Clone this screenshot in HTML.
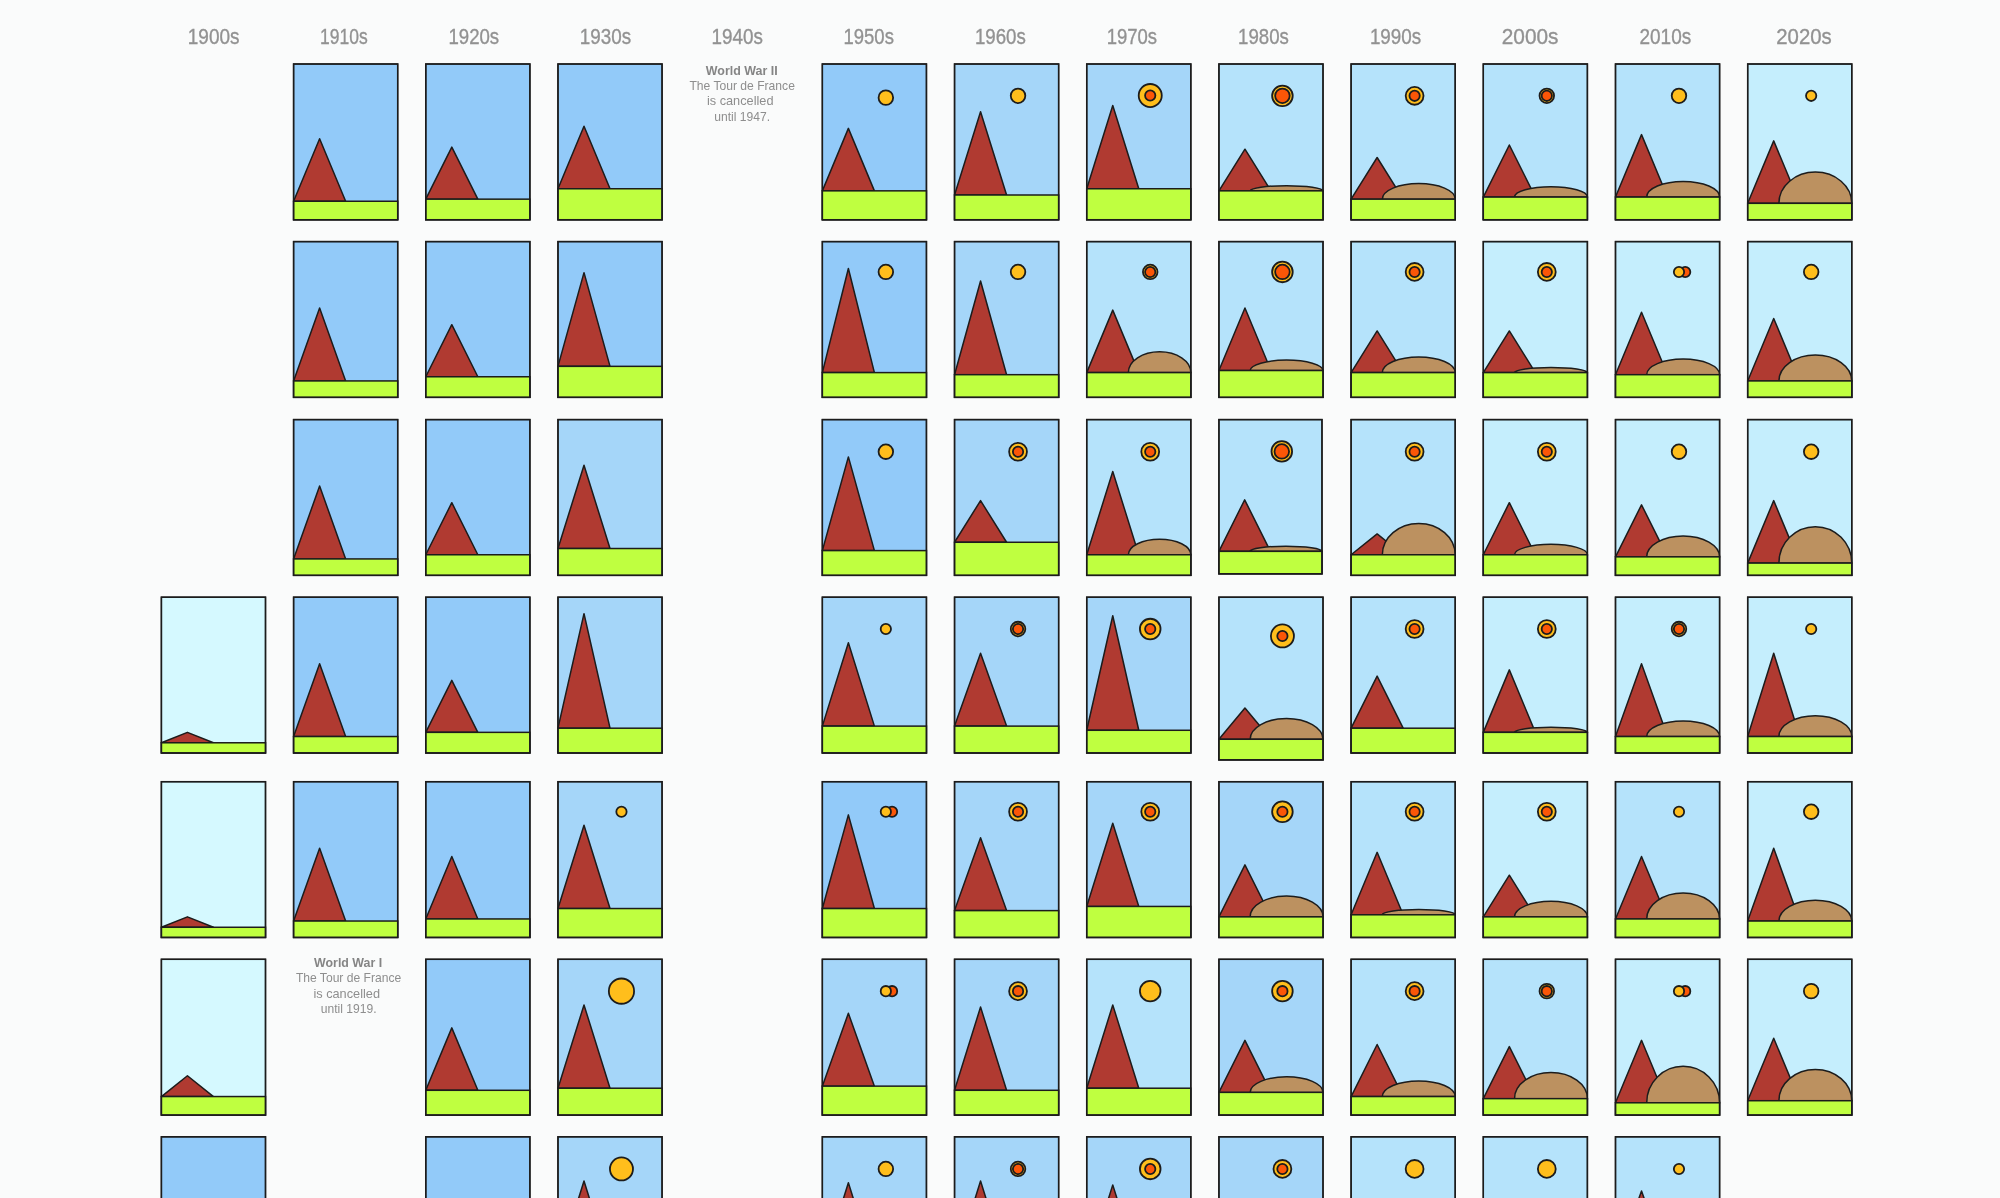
<!DOCTYPE html>
<html lang="en"><head><meta charset="utf-8"><title>Tour de France by decade</title>
<style>
html,body{margin:0;padding:0;background:#FAFBFB;}
body{width:2000px;height:1198px;overflow:hidden;}
svg{display:block;will-change:transform}
.cards g{stroke:#1c1c1c;stroke-width:1.5;stroke-linejoin:miter}
.hdr text{font-family:"Liberation Sans",sans-serif;font-size:21.6px;fill:#929292;stroke:#929292;stroke-width:.35px}
.note text{font-family:"Liberation Sans",sans-serif;font-size:12.2px;fill:#8e8e8e}
.note text.b{font-weight:bold;fill:#858585}
</style></head><body>
<svg width="2000" height="1198" viewBox="0 0 2000 1198">
<rect width="2000" height="1198" fill="#FAFBFB"/>
<g class="hdr"><text x="187.8" y="44.2" textLength="51.8" lengthAdjust="spacingAndGlyphs">1900s</text><text x="320.1" y="44.2" textLength="47.7" lengthAdjust="spacingAndGlyphs">1910s</text><text x="448.4" y="44.2" textLength="50.8" lengthAdjust="spacingAndGlyphs">1920s</text><text x="579.8" y="44.2" textLength="51.3" lengthAdjust="spacingAndGlyphs">1930s</text><text x="711.6" y="44.2" textLength="51.3" lengthAdjust="spacingAndGlyphs">1940s</text><text x="843.5" y="44.2" textLength="50.4" lengthAdjust="spacingAndGlyphs">1950s</text><text x="974.9" y="44.2" textLength="50.9" lengthAdjust="spacingAndGlyphs">1960s</text><text x="1106.7" y="44.2" textLength="50.4" lengthAdjust="spacingAndGlyphs">1970s</text><text x="1238.1" y="44.2" textLength="50.8" lengthAdjust="spacingAndGlyphs">1980s</text><text x="1369.9" y="44.2" textLength="51.3" lengthAdjust="spacingAndGlyphs">1990s</text><text x="1501.8" y="44.2" textLength="56.7" lengthAdjust="spacingAndGlyphs">2000s</text><text x="1639.5" y="44.2" textLength="51.7" lengthAdjust="spacingAndGlyphs">2010s</text><text x="1776.3" y="44.2" textLength="55.4" lengthAdjust="spacingAndGlyphs">2020s</text></g>
<g class="note"><text class="b" x="705.85" y="74.7" textLength="71.9" lengthAdjust="spacingAndGlyphs">World War II</text><text x="689.4" y="90" textLength="105.5" lengthAdjust="spacingAndGlyphs">The Tour de France</text><text x="706.9" y="105" textLength="66.65" lengthAdjust="spacingAndGlyphs">is cancelled</text><text x="714.25" y="120.6" textLength="55.8" lengthAdjust="spacingAndGlyphs">until 1947.</text><text class="b" x="314.1" y="966.6" textLength="68.05" lengthAdjust="spacingAndGlyphs">World War I</text><text x="295.9" y="981.9" textLength="105.3" lengthAdjust="spacingAndGlyphs">The Tour de France</text><text x="313.4" y="997.5" textLength="66.65" lengthAdjust="spacingAndGlyphs">is cancelled</text><text x="320.75" y="1012.9" textLength="55.8" lengthAdjust="spacingAndGlyphs">until 1919.</text></g>
<g class="cards">
<g><rect x="293.59" y="64" width="104.1" height="155.73" fill="#92CAF9"/><path d="M293.59 201.25L319.62 138.79L345.64 201.25Z" fill="#B03A31" stroke-linejoin="round"/><rect x="293.59" y="201.25" width="104.1" height="18.49" fill="#BFFF40"/><rect x="293.59" y="64" width="104.1" height="155.73" fill="none" stroke-width="1.35"/></g>
<g><rect x="425.78" y="64" width="104.1" height="155.73" fill="#92CAF9"/><path d="M425.78 199.16L451.8 147.11L477.83 199.16Z" fill="#B03A31" stroke-linejoin="round"/><rect x="425.78" y="199.16" width="104.1" height="20.57" fill="#BFFF40"/><rect x="425.78" y="64" width="104.1" height="155.73" fill="none" stroke-width="1.35"/></g>
<g><rect x="557.97" y="64" width="104.1" height="155.73" fill="#92CAF9"/><path d="M557.97 188.75L584 126.29L610.02 188.75Z" fill="#B03A31" stroke-linejoin="round"/><rect x="557.97" y="188.75" width="104.1" height="30.98" fill="#BFFF40"/><rect x="557.97" y="64" width="104.1" height="155.73" fill="none" stroke-width="1.35"/></g>
<g><rect x="822.35" y="64" width="104.1" height="155.73" fill="#92CAF9"/><circle cx="885.85" cy="97.63" r="7.28" fill="#FFBE1C" stroke-width="1.8"/><path d="M822.35 190.84L848.38 128.38L874.4 190.84Z" fill="#B03A31" stroke-linejoin="round"/><rect x="822.35" y="190.84" width="104.1" height="28.9" fill="#BFFF40"/><rect x="822.35" y="64" width="104.1" height="155.73" fill="none" stroke-width="1.35"/></g>
<g><rect x="954.54" y="64" width="104.1" height="155.73" fill="#A5D6F9"/><circle cx="1018.04" cy="95.83" r="7.28" fill="#FFBE1C" stroke-width="1.8"/><path d="M954.54 195L980.56 111.72L1006.59 195Z" fill="#B03A31" stroke-linejoin="round"/><rect x="954.54" y="195" width="104.1" height="24.73" fill="#BFFF40"/><rect x="954.54" y="64" width="104.1" height="155.73" fill="none" stroke-width="1.35"/></g>
<g><rect x="1086.73" y="64" width="104.1" height="155.73" fill="#A5D6F9"/><circle cx="1150.23" cy="95.53" r="11.52" fill="#FFBE1C" stroke-width="1.8"/><circle cx="1150.23" cy="95.53" r="5.15" fill="#FB5607" stroke-width="1.8"/><path d="M1086.73 188.75L1112.76 105.47L1138.78 188.75Z" fill="#B03A31" stroke-linejoin="round"/><rect x="1086.73" y="188.75" width="104.1" height="30.98" fill="#BFFF40"/><rect x="1086.73" y="64" width="104.1" height="155.73" fill="none" stroke-width="1.35"/></g>
<g><rect x="1218.92" y="64" width="104.1" height="155.73" fill="#B5E3FB"/><circle cx="1282.42" cy="95.83" r="10.3" fill="#FFBE1C" stroke-width="1.8"/><circle cx="1282.42" cy="95.83" r="7.28" fill="#FB5607" stroke-width="1.8"/><path d="M1218.92 190.84L1244.95 149.2L1270.97 190.84Z" fill="#B03A31" stroke-linejoin="round"/><path d="M1250.15 190.84A36.43 5.21 0 0 1 1323.02 190.84Z" fill="#BC9160"/><rect x="1218.92" y="190.84" width="104.1" height="28.9" fill="#BFFF40"/><rect x="1218.92" y="64" width="104.1" height="155.73" fill="none" stroke-width="1.35"/></g>
<g><rect x="1351.11" y="64" width="104.1" height="155.73" fill="#B5E3FB"/><circle cx="1414.61" cy="95.83" r="8.92" fill="#FFBE1C" stroke-width="1.8"/><circle cx="1414.61" cy="95.83" r="5.15" fill="#FB5607" stroke-width="1.8"/><path d="M1351.11 199.16L1377.14 157.52L1403.16 199.16Z" fill="#B03A31" stroke-linejoin="round"/><path d="M1382.34 199.16A36.43 15.61 0 0 1 1455.21 199.16Z" fill="#BC9160"/><rect x="1351.11" y="199.16" width="104.1" height="20.57" fill="#BFFF40"/><rect x="1351.11" y="64" width="104.1" height="155.73" fill="none" stroke-width="1.35"/></g>
<g><rect x="1483.3" y="64" width="104.1" height="155.73" fill="#B5E3FB"/><circle cx="1546.8" cy="95.83" r="7.28" fill="#FFBE1C" stroke-width="1.8"/><circle cx="1546.8" cy="95.83" r="5.15" fill="#FB5607" stroke-width="1.8"/><path d="M1483.3 197.08L1509.33 145.03L1535.35 197.08Z" fill="#B03A31" stroke-linejoin="round"/><path d="M1514.53 197.08A36.43 10.41 0 0 1 1587.4 197.08Z" fill="#BC9160"/><rect x="1483.3" y="197.08" width="104.1" height="22.65" fill="#BFFF40"/><rect x="1483.3" y="64" width="104.1" height="155.73" fill="none" stroke-width="1.35"/></g>
<g><rect x="1615.49" y="64" width="104.1" height="155.73" fill="#B5E3FB"/><circle cx="1678.99" cy="95.83" r="7.28" fill="#FFBE1C" stroke-width="1.8"/><path d="M1615.49 197.08L1641.52 134.62L1667.54 197.08Z" fill="#B03A31" stroke-linejoin="round"/><path d="M1646.72 197.08A36.43 15.61 0 0 1 1719.59 197.08Z" fill="#BC9160"/><rect x="1615.49" y="197.08" width="104.1" height="22.65" fill="#BFFF40"/><rect x="1615.49" y="64" width="104.1" height="155.73" fill="none" stroke-width="1.35"/></g>
<g><rect x="1747.68" y="64" width="104.1" height="155.73" fill="#C5EEFD"/><circle cx="1811.18" cy="95.83" r="5.15" fill="#FFBE1C" stroke-width="1.8"/><path d="M1747.68 203.33L1773.71 140.87L1799.73 203.33Z" fill="#B03A31" stroke-linejoin="round"/><path d="M1778.91 203.33A36.43 31.23 0 0 1 1851.78 203.33Z" fill="#BC9160"/><rect x="1747.68" y="203.33" width="104.1" height="16.41" fill="#BFFF40"/><rect x="1747.68" y="64" width="104.1" height="155.73" fill="none" stroke-width="1.35"/></g>
<g><rect x="293.59" y="241.6" width="104.1" height="155.73" fill="#92CAF9"/><path d="M293.59 380.93L319.62 308.06L345.64 380.93Z" fill="#B03A31" stroke-linejoin="round"/><rect x="293.59" y="380.93" width="104.1" height="16.41" fill="#BFFF40"/><rect x="293.59" y="241.6" width="104.1" height="155.73" fill="none" stroke-width="1.35"/></g>
<g><rect x="425.78" y="241.6" width="104.1" height="155.73" fill="#92CAF9"/><path d="M425.78 376.76L451.8 324.71L477.83 376.76Z" fill="#B03A31" stroke-linejoin="round"/><rect x="425.78" y="376.76" width="104.1" height="20.57" fill="#BFFF40"/><rect x="425.78" y="241.6" width="104.1" height="155.73" fill="none" stroke-width="1.35"/></g>
<g><rect x="557.97" y="241.6" width="104.1" height="155.73" fill="#92CAF9"/><path d="M557.97 366.35L584 272.66L610.02 366.35Z" fill="#B03A31" stroke-linejoin="round"/><rect x="557.97" y="366.35" width="104.1" height="30.98" fill="#BFFF40"/><rect x="557.97" y="241.6" width="104.1" height="155.73" fill="none" stroke-width="1.35"/></g>
<g><rect x="822.35" y="241.6" width="104.1" height="155.73" fill="#92CAF9"/><circle cx="885.85" cy="271.93" r="7.28" fill="#FFBE1C" stroke-width="1.8"/><path d="M822.35 372.6L848.38 268.5L874.4 372.6Z" fill="#B03A31" stroke-linejoin="round"/><rect x="822.35" y="372.6" width="104.1" height="24.73" fill="#BFFF40"/><rect x="822.35" y="241.6" width="104.1" height="155.73" fill="none" stroke-width="1.35"/></g>
<g><rect x="954.54" y="241.6" width="104.1" height="155.73" fill="#A5D6F9"/><circle cx="1018.04" cy="271.93" r="7.28" fill="#FFBE1C" stroke-width="1.8"/><path d="M954.54 374.68L980.56 280.99L1006.59 374.68Z" fill="#B03A31" stroke-linejoin="round"/><rect x="954.54" y="374.68" width="104.1" height="22.65" fill="#BFFF40"/><rect x="954.54" y="241.6" width="104.1" height="155.73" fill="none" stroke-width="1.35"/></g>
<g><rect x="1086.73" y="241.6" width="104.1" height="155.73" fill="#B5E3FB"/><circle cx="1150.23" cy="271.93" r="7.28" fill="#FFBE1C" stroke-width="1.8"/><circle cx="1150.23" cy="271.93" r="5.15" fill="#FB5607" stroke-width="1.8"/><path d="M1086.73 372.6L1112.76 310.14L1138.78 372.6Z" fill="#B03A31" stroke-linejoin="round"/><path d="M1128.37 372.6A31.23 20.82 0 0 1 1190.83 372.6Z" fill="#BC9160"/><rect x="1086.73" y="372.6" width="104.1" height="24.73" fill="#BFFF40"/><rect x="1086.73" y="241.6" width="104.1" height="155.73" fill="none" stroke-width="1.35"/></g>
<g><rect x="1218.92" y="241.6" width="104.1" height="155.73" fill="#B5E3FB"/><circle cx="1282.42" cy="271.93" r="10.3" fill="#FFBE1C" stroke-width="1.8"/><circle cx="1282.42" cy="271.93" r="7.28" fill="#FB5607" stroke-width="1.8"/><path d="M1218.92 370.52L1244.95 308.06L1270.97 370.52Z" fill="#B03A31" stroke-linejoin="round"/><path d="M1250.15 370.52A36.43 10.41 0 0 1 1323.02 370.52Z" fill="#BC9160"/><rect x="1218.92" y="370.52" width="104.1" height="26.82" fill="#BFFF40"/><rect x="1218.92" y="241.6" width="104.1" height="155.73" fill="none" stroke-width="1.35"/></g>
<g><rect x="1351.11" y="241.6" width="104.1" height="155.73" fill="#B5E3FB"/><circle cx="1414.61" cy="271.93" r="8.92" fill="#FFBE1C" stroke-width="1.8"/><circle cx="1414.61" cy="271.93" r="5.15" fill="#FB5607" stroke-width="1.8"/><path d="M1351.11 372.6L1377.14 330.96L1403.16 372.6Z" fill="#B03A31" stroke-linejoin="round"/><path d="M1382.34 372.6A36.43 15.61 0 0 1 1455.21 372.6Z" fill="#BC9160"/><rect x="1351.11" y="372.6" width="104.1" height="24.73" fill="#BFFF40"/><rect x="1351.11" y="241.6" width="104.1" height="155.73" fill="none" stroke-width="1.35"/></g>
<g><rect x="1483.3" y="241.6" width="104.1" height="155.73" fill="#C5EEFD"/><circle cx="1546.8" cy="271.93" r="8.92" fill="#FFBE1C" stroke-width="1.8"/><circle cx="1546.8" cy="271.93" r="5.15" fill="#FB5607" stroke-width="1.8"/><path d="M1483.3 372.6L1509.33 330.96L1535.35 372.6Z" fill="#B03A31" stroke-linejoin="round"/><path d="M1514.53 372.6A36.43 5.21 0 0 1 1587.4 372.6Z" fill="#BC9160"/><rect x="1483.3" y="372.6" width="104.1" height="24.73" fill="#BFFF40"/><rect x="1483.3" y="241.6" width="104.1" height="155.73" fill="none" stroke-width="1.35"/></g>
<g><rect x="1615.49" y="241.6" width="104.1" height="155.73" fill="#C5EEFD"/><circle cx="1685.19" cy="271.93" r="5.15" fill="#FB5607" stroke-width="1.8"/><circle cx="1678.99" cy="271.93" r="5.15" fill="#FFBE1C" stroke-width="1.8"/><path d="M1615.49 374.68L1641.52 312.22L1667.54 374.68Z" fill="#B03A31" stroke-linejoin="round"/><path d="M1646.72 374.68A36.43 15.61 0 0 1 1719.59 374.68Z" fill="#BC9160"/><rect x="1615.49" y="374.68" width="104.1" height="22.65" fill="#BFFF40"/><rect x="1615.49" y="241.6" width="104.1" height="155.73" fill="none" stroke-width="1.35"/></g>
<g><rect x="1747.68" y="241.6" width="104.1" height="155.73" fill="#C5EEFD"/><circle cx="1811.18" cy="271.93" r="7.28" fill="#FFBE1C" stroke-width="1.8"/><path d="M1747.68 380.93L1773.71 318.47L1799.73 380.93Z" fill="#B03A31" stroke-linejoin="round"/><path d="M1778.91 380.93A36.43 26.02 0 0 1 1851.78 380.93Z" fill="#BC9160"/><rect x="1747.68" y="380.93" width="104.1" height="16.41" fill="#BFFF40"/><rect x="1747.68" y="241.6" width="104.1" height="155.73" fill="none" stroke-width="1.35"/></g>
<g><rect x="293.59" y="419.6" width="104.1" height="155.73" fill="#92CAF9"/><path d="M293.59 558.93L319.62 486.06L345.64 558.93Z" fill="#B03A31" stroke-linejoin="round"/><rect x="293.59" y="558.93" width="104.1" height="16.41" fill="#BFFF40"/><rect x="293.59" y="419.6" width="104.1" height="155.73" fill="none" stroke-width="1.35"/></g>
<g><rect x="425.78" y="419.6" width="104.1" height="155.73" fill="#92CAF9"/><path d="M425.78 554.76L451.8 502.71L477.83 554.76Z" fill="#B03A31" stroke-linejoin="round"/><rect x="425.78" y="554.76" width="104.1" height="20.57" fill="#BFFF40"/><rect x="425.78" y="419.6" width="104.1" height="155.73" fill="none" stroke-width="1.35"/></g>
<g><rect x="557.97" y="419.6" width="104.1" height="155.73" fill="#A5D6F9"/><path d="M557.97 548.52L584 465.24L610.02 548.52Z" fill="#B03A31" stroke-linejoin="round"/><rect x="557.97" y="548.52" width="104.1" height="26.82" fill="#BFFF40"/><rect x="557.97" y="419.6" width="104.1" height="155.73" fill="none" stroke-width="1.35"/></g>
<g><rect x="822.35" y="419.6" width="104.1" height="155.73" fill="#92CAF9"/><circle cx="885.85" cy="451.73" r="7.28" fill="#FFBE1C" stroke-width="1.8"/><path d="M822.35 550.6L848.38 456.91L874.4 550.6Z" fill="#B03A31" stroke-linejoin="round"/><rect x="822.35" y="550.6" width="104.1" height="24.73" fill="#BFFF40"/><rect x="822.35" y="419.6" width="104.1" height="155.73" fill="none" stroke-width="1.35"/></g>
<g><rect x="954.54" y="419.6" width="104.1" height="155.73" fill="#A5D6F9"/><circle cx="1018.04" cy="451.73" r="8.92" fill="#FFBE1C" stroke-width="1.8"/><circle cx="1018.04" cy="451.73" r="5.15" fill="#FB5607" stroke-width="1.8"/><path d="M954.54 542.27L980.56 500.63L1006.59 542.27Z" fill="#B03A31" stroke-linejoin="round"/><rect x="954.54" y="542.27" width="104.1" height="33.06" fill="#BFFF40"/><rect x="954.54" y="419.6" width="104.1" height="155.73" fill="none" stroke-width="1.35"/></g>
<g><rect x="1086.73" y="419.6" width="104.1" height="155.73" fill="#B5E3FB"/><circle cx="1150.23" cy="451.73" r="8.92" fill="#FFBE1C" stroke-width="1.8"/><circle cx="1150.23" cy="451.73" r="5.15" fill="#FB5607" stroke-width="1.8"/><path d="M1086.73 554.76L1112.76 471.48L1138.78 554.76Z" fill="#B03A31" stroke-linejoin="round"/><path d="M1128.37 554.76A31.23 15.61 0 0 1 1190.83 554.76Z" fill="#BC9160"/><rect x="1086.73" y="554.76" width="104.1" height="20.57" fill="#BFFF40"/><rect x="1086.73" y="419.6" width="104.1" height="155.73" fill="none" stroke-width="1.35"/></g>
<g><rect x="1218.92" y="419.6" width="103.06" height="154.18" fill="#B5E3FB"/><circle cx="1281.79" cy="451.42" r="10.3" fill="#FFBE1C" stroke-width="1.8"/><circle cx="1281.79" cy="451.42" r="7.28" fill="#FB5607" stroke-width="1.8"/><path d="M1218.92 551.35L1244.68 499.82L1270.45 551.35Z" fill="#B03A31" stroke-linejoin="round"/><path d="M1249.84 551.35A36.07 5.15 0 0 1 1321.98 551.35Z" fill="#BC9160"/><rect x="1218.92" y="551.35" width="103.06" height="22.42" fill="#BFFF40"/><rect x="1218.92" y="419.6" width="103.06" height="154.18" fill="none" stroke-width="1.35"/></g>
<g><rect x="1351.11" y="419.6" width="104.1" height="155.73" fill="#B5E3FB"/><circle cx="1414.61" cy="451.73" r="8.92" fill="#FFBE1C" stroke-width="1.8"/><circle cx="1414.61" cy="451.73" r="5.15" fill="#FB5607" stroke-width="1.8"/><path d="M1351.11 554.76L1377.14 533.94L1403.16 554.76Z" fill="#B03A31" stroke-linejoin="round"/><path d="M1382.34 554.76A36.43 31.23 0 0 1 1455.21 554.76Z" fill="#BC9160"/><rect x="1351.11" y="554.76" width="104.1" height="20.57" fill="#BFFF40"/><rect x="1351.11" y="419.6" width="104.1" height="155.73" fill="none" stroke-width="1.35"/></g>
<g><rect x="1483.3" y="419.6" width="104.1" height="155.73" fill="#C5EEFD"/><circle cx="1546.8" cy="451.73" r="8.92" fill="#FFBE1C" stroke-width="1.8"/><circle cx="1546.8" cy="451.73" r="5.15" fill="#FB5607" stroke-width="1.8"/><path d="M1483.3 554.76L1509.33 502.71L1535.35 554.76Z" fill="#B03A31" stroke-linejoin="round"/><path d="M1514.53 554.76A36.43 10.41 0 0 1 1587.4 554.76Z" fill="#BC9160"/><rect x="1483.3" y="554.76" width="104.1" height="20.57" fill="#BFFF40"/><rect x="1483.3" y="419.6" width="104.1" height="155.73" fill="none" stroke-width="1.35"/></g>
<g><rect x="1615.49" y="419.6" width="104.1" height="155.73" fill="#C5EEFD"/><circle cx="1678.99" cy="451.73" r="7.28" fill="#FFBE1C" stroke-width="1.8"/><path d="M1615.49 556.85L1641.52 504.8L1667.54 556.85Z" fill="#B03A31" stroke-linejoin="round"/><path d="M1646.72 556.85A36.43 20.82 0 0 1 1719.59 556.85Z" fill="#BC9160"/><rect x="1615.49" y="556.85" width="104.1" height="18.49" fill="#BFFF40"/><rect x="1615.49" y="419.6" width="104.1" height="155.73" fill="none" stroke-width="1.35"/></g>
<g><rect x="1747.68" y="419.6" width="104.1" height="155.73" fill="#C5EEFD"/><circle cx="1811.18" cy="451.73" r="7.28" fill="#FFBE1C" stroke-width="1.8"/><path d="M1747.68 563.09L1773.71 500.63L1799.73 563.09Z" fill="#B03A31" stroke-linejoin="round"/><path d="M1778.91 563.09A36.43 36.43 0 0 1 1851.78 563.09Z" fill="#BC9160"/><rect x="1747.68" y="563.09" width="104.1" height="12.24" fill="#BFFF40"/><rect x="1747.68" y="419.6" width="104.1" height="155.73" fill="none" stroke-width="1.35"/></g>
<g><rect x="161.4" y="597.2" width="104.1" height="155.73" fill="#D5F9FF"/><path d="M161.4 742.77L187.43 732.36L213.45 742.77Z" fill="#B03A31" stroke-linejoin="round"/><rect x="161.4" y="742.77" width="104.1" height="10.16" fill="#BFFF40"/><rect x="161.4" y="597.2" width="104.1" height="155.73" fill="none" stroke-width="1.35"/></g>
<g><rect x="293.59" y="597.2" width="104.1" height="155.73" fill="#92CAF9"/><path d="M293.59 736.53L319.62 663.66L345.64 736.53Z" fill="#B03A31" stroke-linejoin="round"/><rect x="293.59" y="736.53" width="104.1" height="16.41" fill="#BFFF40"/><rect x="293.59" y="597.2" width="104.1" height="155.73" fill="none" stroke-width="1.35"/></g>
<g><rect x="425.78" y="597.2" width="104.1" height="155.73" fill="#92CAF9"/><path d="M425.78 732.36L451.8 680.31L477.83 732.36Z" fill="#B03A31" stroke-linejoin="round"/><rect x="425.78" y="732.36" width="104.1" height="20.57" fill="#BFFF40"/><rect x="425.78" y="597.2" width="104.1" height="155.73" fill="none" stroke-width="1.35"/></g>
<g><rect x="557.97" y="597.2" width="104.1" height="155.73" fill="#A5D6F9"/><path d="M557.97 728.2L584 613.69L610.02 728.2Z" fill="#B03A31" stroke-linejoin="round"/><rect x="557.97" y="728.2" width="104.1" height="24.73" fill="#BFFF40"/><rect x="557.97" y="597.2" width="104.1" height="155.73" fill="none" stroke-width="1.35"/></g>
<g><rect x="822.35" y="597.2" width="104.1" height="155.73" fill="#A5D6F9"/><circle cx="885.85" cy="629.03" r="5.15" fill="#FFBE1C" stroke-width="1.8"/><path d="M822.35 726.12L848.38 642.84L874.4 726.12Z" fill="#B03A31" stroke-linejoin="round"/><rect x="822.35" y="726.12" width="104.1" height="26.82" fill="#BFFF40"/><rect x="822.35" y="597.2" width="104.1" height="155.73" fill="none" stroke-width="1.35"/></g>
<g><rect x="954.54" y="597.2" width="104.1" height="155.73" fill="#A5D6F9"/><circle cx="1018.04" cy="629.03" r="7.28" fill="#FFBE1C" stroke-width="1.8"/><circle cx="1018.04" cy="629.03" r="5.15" fill="#FB5607" stroke-width="1.8"/><path d="M954.54 726.12L980.56 653.25L1006.59 726.12Z" fill="#B03A31" stroke-linejoin="round"/><rect x="954.54" y="726.12" width="104.1" height="26.82" fill="#BFFF40"/><rect x="954.54" y="597.2" width="104.1" height="155.73" fill="none" stroke-width="1.35"/></g>
<g><rect x="1086.73" y="597.2" width="104.1" height="155.73" fill="#A5D6F9"/><circle cx="1150.23" cy="629.03" r="10.3" fill="#FFBE1C" stroke-width="1.8"/><circle cx="1150.23" cy="629.03" r="5.15" fill="#FB5607" stroke-width="1.8"/><path d="M1086.73 730.28L1112.76 615.77L1138.78 730.28Z" fill="#B03A31" stroke-linejoin="round"/><rect x="1086.73" y="730.28" width="104.1" height="22.65" fill="#BFFF40"/><rect x="1086.73" y="597.2" width="104.1" height="155.73" fill="none" stroke-width="1.35"/></g>
<g><rect x="1218.92" y="597.2" width="104.1" height="162.63" fill="#B5E3FB"/><circle cx="1282.42" cy="635.93" r="11.52" fill="#FFBE1C" stroke-width="1.8"/><circle cx="1282.42" cy="635.93" r="5.15" fill="#FB5607" stroke-width="1.8"/><path d="M1218.92 739.26L1244.95 708.03L1270.97 739.26Z" fill="#B03A31" stroke-linejoin="round"/><path d="M1250.15 739.26A36.43 20.82 0 0 1 1323.02 739.26Z" fill="#BC9160"/><rect x="1218.92" y="739.26" width="104.1" height="20.57" fill="#BFFF40"/><rect x="1218.92" y="597.2" width="104.1" height="162.63" fill="none" stroke-width="1.35"/></g>
<g><rect x="1351.11" y="597.2" width="104.1" height="155.73" fill="#B5E3FB"/><circle cx="1414.61" cy="629.03" r="8.92" fill="#FFBE1C" stroke-width="1.8"/><circle cx="1414.61" cy="629.03" r="5.15" fill="#FB5607" stroke-width="1.8"/><path d="M1351.11 728.2L1377.14 676.15L1403.16 728.2Z" fill="#B03A31" stroke-linejoin="round"/><rect x="1351.11" y="728.2" width="104.1" height="24.73" fill="#BFFF40"/><rect x="1351.11" y="597.2" width="104.1" height="155.73" fill="none" stroke-width="1.35"/></g>
<g><rect x="1483.3" y="597.2" width="104.1" height="155.73" fill="#C5EEFD"/><circle cx="1546.8" cy="629.03" r="8.92" fill="#FFBE1C" stroke-width="1.8"/><circle cx="1546.8" cy="629.03" r="5.15" fill="#FB5607" stroke-width="1.8"/><path d="M1483.3 732.36L1509.33 669.9L1535.35 732.36Z" fill="#B03A31" stroke-linejoin="round"/><path d="M1514.53 732.36A36.43 5.21 0 0 1 1587.4 732.36Z" fill="#BC9160"/><rect x="1483.3" y="732.36" width="104.1" height="20.57" fill="#BFFF40"/><rect x="1483.3" y="597.2" width="104.1" height="155.73" fill="none" stroke-width="1.35"/></g>
<g><rect x="1615.49" y="597.2" width="104.1" height="155.73" fill="#C5EEFD"/><circle cx="1678.99" cy="629.03" r="7.28" fill="#FFBE1C" stroke-width="1.8"/><circle cx="1678.99" cy="629.03" r="5.15" fill="#FB5607" stroke-width="1.8"/><path d="M1615.49 736.53L1641.52 663.66L1667.54 736.53Z" fill="#B03A31" stroke-linejoin="round"/><path d="M1646.72 736.53A36.43 15.61 0 0 1 1719.59 736.53Z" fill="#BC9160"/><rect x="1615.49" y="736.53" width="104.1" height="16.41" fill="#BFFF40"/><rect x="1615.49" y="597.2" width="104.1" height="155.73" fill="none" stroke-width="1.35"/></g>
<g><rect x="1747.68" y="597.2" width="104.1" height="155.73" fill="#C5EEFD"/><circle cx="1811.18" cy="629.03" r="5.15" fill="#FFBE1C" stroke-width="1.8"/><path d="M1747.68 736.53L1773.71 653.25L1799.73 736.53Z" fill="#B03A31" stroke-linejoin="round"/><path d="M1778.91 736.53A36.43 20.82 0 0 1 1851.78 736.53Z" fill="#BC9160"/><rect x="1747.68" y="736.53" width="104.1" height="16.41" fill="#BFFF40"/><rect x="1747.68" y="597.2" width="104.1" height="155.73" fill="none" stroke-width="1.35"/></g>
<g><rect x="161.4" y="781.7" width="104.1" height="155.73" fill="#D5F9FF"/><path d="M161.4 927.27L187.43 916.86L213.45 927.27Z" fill="#B03A31" stroke-linejoin="round"/><rect x="161.4" y="927.27" width="104.1" height="10.16" fill="#BFFF40"/><rect x="161.4" y="781.7" width="104.1" height="155.73" fill="none" stroke-width="1.35"/></g>
<g><rect x="293.59" y="781.7" width="104.1" height="155.73" fill="#92CAF9"/><path d="M293.59 921.03L319.62 848.16L345.64 921.03Z" fill="#B03A31" stroke-linejoin="round"/><rect x="293.59" y="921.03" width="104.1" height="16.41" fill="#BFFF40"/><rect x="293.59" y="781.7" width="104.1" height="155.73" fill="none" stroke-width="1.35"/></g>
<g><rect x="425.78" y="781.7" width="104.1" height="155.73" fill="#92CAF9"/><path d="M425.78 918.95L451.8 856.49L477.83 918.95Z" fill="#B03A31" stroke-linejoin="round"/><rect x="425.78" y="918.95" width="104.1" height="18.49" fill="#BFFF40"/><rect x="425.78" y="781.7" width="104.1" height="155.73" fill="none" stroke-width="1.35"/></g>
<g><rect x="557.97" y="781.7" width="104.1" height="155.73" fill="#A5D6F9"/><circle cx="621.47" cy="811.73" r="5.15" fill="#FFBE1C" stroke-width="1.8"/><path d="M557.97 908.54L584 825.26L610.02 908.54Z" fill="#B03A31" stroke-linejoin="round"/><rect x="557.97" y="908.54" width="104.1" height="28.9" fill="#BFFF40"/><rect x="557.97" y="781.7" width="104.1" height="155.73" fill="none" stroke-width="1.35"/></g>
<g><rect x="822.35" y="781.7" width="104.1" height="155.73" fill="#92CAF9"/><circle cx="892.05" cy="811.73" r="5.15" fill="#FB5607" stroke-width="1.8"/><circle cx="885.85" cy="811.73" r="5.15" fill="#FFBE1C" stroke-width="1.8"/><path d="M822.35 908.54L848.38 814.85L874.4 908.54Z" fill="#B03A31" stroke-linejoin="round"/><rect x="822.35" y="908.54" width="104.1" height="28.9" fill="#BFFF40"/><rect x="822.35" y="781.7" width="104.1" height="155.73" fill="none" stroke-width="1.35"/></g>
<g><rect x="954.54" y="781.7" width="104.1" height="155.73" fill="#A5D6F9"/><circle cx="1018.04" cy="811.73" r="8.92" fill="#FFBE1C" stroke-width="1.8"/><circle cx="1018.04" cy="811.73" r="5.15" fill="#FB5607" stroke-width="1.8"/><path d="M954.54 910.62L980.56 837.75L1006.59 910.62Z" fill="#B03A31" stroke-linejoin="round"/><rect x="954.54" y="910.62" width="104.1" height="26.82" fill="#BFFF40"/><rect x="954.54" y="781.7" width="104.1" height="155.73" fill="none" stroke-width="1.35"/></g>
<g><rect x="1086.73" y="781.7" width="104.1" height="155.73" fill="#A5D6F9"/><circle cx="1150.23" cy="811.73" r="8.92" fill="#FFBE1C" stroke-width="1.8"/><circle cx="1150.23" cy="811.73" r="5.15" fill="#FB5607" stroke-width="1.8"/><path d="M1086.73 906.45L1112.76 823.17L1138.78 906.45Z" fill="#B03A31" stroke-linejoin="round"/><rect x="1086.73" y="906.45" width="104.1" height="30.98" fill="#BFFF40"/><rect x="1086.73" y="781.7" width="104.1" height="155.73" fill="none" stroke-width="1.35"/></g>
<g><rect x="1218.92" y="781.7" width="104.1" height="155.73" fill="#A5D6F9"/><circle cx="1282.42" cy="811.73" r="10.3" fill="#FFBE1C" stroke-width="1.8"/><circle cx="1282.42" cy="811.73" r="5.15" fill="#FB5607" stroke-width="1.8"/><path d="M1218.92 916.86L1244.95 864.81L1270.97 916.86Z" fill="#B03A31" stroke-linejoin="round"/><path d="M1250.15 916.86A36.43 20.82 0 0 1 1323.02 916.86Z" fill="#BC9160"/><rect x="1218.92" y="916.86" width="104.1" height="20.57" fill="#BFFF40"/><rect x="1218.92" y="781.7" width="104.1" height="155.73" fill="none" stroke-width="1.35"/></g>
<g><rect x="1351.11" y="781.7" width="104.1" height="155.73" fill="#B5E3FB"/><circle cx="1414.61" cy="811.73" r="8.92" fill="#FFBE1C" stroke-width="1.8"/><circle cx="1414.61" cy="811.73" r="5.15" fill="#FB5607" stroke-width="1.8"/><path d="M1351.11 914.78L1377.14 852.32L1403.16 914.78Z" fill="#B03A31" stroke-linejoin="round"/><path d="M1382.34 914.78A36.43 5.21 0 0 1 1455.21 914.78Z" fill="#BC9160"/><rect x="1351.11" y="914.78" width="104.1" height="22.65" fill="#BFFF40"/><rect x="1351.11" y="781.7" width="104.1" height="155.73" fill="none" stroke-width="1.35"/></g>
<g><rect x="1483.3" y="781.7" width="104.1" height="155.73" fill="#C5EEFD"/><circle cx="1546.8" cy="811.73" r="8.92" fill="#FFBE1C" stroke-width="1.8"/><circle cx="1546.8" cy="811.73" r="5.15" fill="#FB5607" stroke-width="1.8"/><path d="M1483.3 916.86L1509.33 875.22L1535.35 916.86Z" fill="#B03A31" stroke-linejoin="round"/><path d="M1514.53 916.86A36.43 15.61 0 0 1 1587.4 916.86Z" fill="#BC9160"/><rect x="1483.3" y="916.86" width="104.1" height="20.57" fill="#BFFF40"/><rect x="1483.3" y="781.7" width="104.1" height="155.73" fill="none" stroke-width="1.35"/></g>
<g><rect x="1615.49" y="781.7" width="104.1" height="155.73" fill="#B5E3FB"/><circle cx="1678.99" cy="811.73" r="5.15" fill="#FFBE1C" stroke-width="1.8"/><path d="M1615.49 918.95L1641.52 856.49L1667.54 918.95Z" fill="#B03A31" stroke-linejoin="round"/><path d="M1646.72 918.95A36.43 26.02 0 0 1 1719.59 918.95Z" fill="#BC9160"/><rect x="1615.49" y="918.95" width="104.1" height="18.49" fill="#BFFF40"/><rect x="1615.49" y="781.7" width="104.1" height="155.73" fill="none" stroke-width="1.35"/></g>
<g><rect x="1747.68" y="781.7" width="104.1" height="155.73" fill="#C5EEFD"/><circle cx="1811.18" cy="811.73" r="7.28" fill="#FFBE1C" stroke-width="1.8"/><path d="M1747.68 921.03L1773.71 848.16L1799.73 921.03Z" fill="#B03A31" stroke-linejoin="round"/><path d="M1778.91 921.03A36.43 20.82 0 0 1 1851.78 921.03Z" fill="#BC9160"/><rect x="1747.68" y="921.03" width="104.1" height="16.41" fill="#BFFF40"/><rect x="1747.68" y="781.7" width="104.1" height="155.73" fill="none" stroke-width="1.35"/></g>
<g><rect x="161.4" y="959.3" width="104.1" height="155.73" fill="#D5F9FF"/><path d="M161.4 1096.55L187.43 1075.73L213.45 1096.55Z" fill="#B03A31" stroke-linejoin="round"/><rect x="161.4" y="1096.55" width="104.1" height="18.49" fill="#BFFF40"/><rect x="161.4" y="959.3" width="104.1" height="155.73" fill="none" stroke-width="1.35"/></g>
<g><rect x="425.78" y="959.3" width="104.1" height="155.73" fill="#92CAF9"/><path d="M425.78 1090.3L451.8 1027.84L477.83 1090.3Z" fill="#B03A31" stroke-linejoin="round"/><rect x="425.78" y="1090.3" width="104.1" height="24.73" fill="#BFFF40"/><rect x="425.78" y="959.3" width="104.1" height="155.73" fill="none" stroke-width="1.35"/></g>
<g><rect x="557.97" y="959.3" width="104.1" height="155.73" fill="#A5D6F9"/><circle cx="621.47" cy="991.13" r="12.61" fill="#FFBE1C" stroke-width="1.8"/><path d="M557.97 1088.22L584 1004.94L610.02 1088.22Z" fill="#B03A31" stroke-linejoin="round"/><rect x="557.97" y="1088.22" width="104.1" height="26.82" fill="#BFFF40"/><rect x="557.97" y="959.3" width="104.1" height="155.73" fill="none" stroke-width="1.35"/></g>
<g><rect x="822.35" y="959.3" width="104.1" height="155.73" fill="#A5D6F9"/><circle cx="892.05" cy="991.13" r="5.15" fill="#FB5607" stroke-width="1.8"/><circle cx="885.85" cy="991.13" r="5.15" fill="#FFBE1C" stroke-width="1.8"/><path d="M822.35 1086.14L848.38 1013.27L874.4 1086.14Z" fill="#B03A31" stroke-linejoin="round"/><rect x="822.35" y="1086.14" width="104.1" height="28.9" fill="#BFFF40"/><rect x="822.35" y="959.3" width="104.1" height="155.73" fill="none" stroke-width="1.35"/></g>
<g><rect x="954.54" y="959.3" width="104.1" height="155.73" fill="#A5D6F9"/><circle cx="1018.04" cy="991.13" r="8.92" fill="#FFBE1C" stroke-width="1.8"/><circle cx="1018.04" cy="991.13" r="5.15" fill="#FB5607" stroke-width="1.8"/><path d="M954.54 1090.3L980.56 1007.02L1006.59 1090.3Z" fill="#B03A31" stroke-linejoin="round"/><rect x="954.54" y="1090.3" width="104.1" height="24.73" fill="#BFFF40"/><rect x="954.54" y="959.3" width="104.1" height="155.73" fill="none" stroke-width="1.35"/></g>
<g><rect x="1086.73" y="959.3" width="104.1" height="155.73" fill="#B5E3FB"/><circle cx="1150.23" cy="991.13" r="10.3" fill="#FFBE1C" stroke-width="1.8"/><path d="M1086.73 1088.22L1112.76 1004.94L1138.78 1088.22Z" fill="#B03A31" stroke-linejoin="round"/><rect x="1086.73" y="1088.22" width="104.1" height="26.82" fill="#BFFF40"/><rect x="1086.73" y="959.3" width="104.1" height="155.73" fill="none" stroke-width="1.35"/></g>
<g><rect x="1218.92" y="959.3" width="104.1" height="155.73" fill="#A5D6F9"/><circle cx="1282.42" cy="991.13" r="10.3" fill="#FFBE1C" stroke-width="1.8"/><circle cx="1282.42" cy="991.13" r="5.15" fill="#FB5607" stroke-width="1.8"/><path d="M1218.92 1092.38L1244.95 1040.33L1270.97 1092.38Z" fill="#B03A31" stroke-linejoin="round"/><path d="M1250.15 1092.38A36.43 15.61 0 0 1 1323.02 1092.38Z" fill="#BC9160"/><rect x="1218.92" y="1092.38" width="104.1" height="22.65" fill="#BFFF40"/><rect x="1218.92" y="959.3" width="104.1" height="155.73" fill="none" stroke-width="1.35"/></g>
<g><rect x="1351.11" y="959.3" width="104.1" height="155.73" fill="#B5E3FB"/><circle cx="1414.61" cy="991.13" r="8.92" fill="#FFBE1C" stroke-width="1.8"/><circle cx="1414.61" cy="991.13" r="5.15" fill="#FB5607" stroke-width="1.8"/><path d="M1351.11 1096.55L1377.14 1044.5L1403.16 1096.55Z" fill="#B03A31" stroke-linejoin="round"/><path d="M1382.34 1096.55A36.43 15.61 0 0 1 1455.21 1096.55Z" fill="#BC9160"/><rect x="1351.11" y="1096.55" width="104.1" height="18.49" fill="#BFFF40"/><rect x="1351.11" y="959.3" width="104.1" height="155.73" fill="none" stroke-width="1.35"/></g>
<g><rect x="1483.3" y="959.3" width="104.1" height="155.73" fill="#B5E3FB"/><circle cx="1546.8" cy="991.13" r="7.28" fill="#FFBE1C" stroke-width="1.8"/><circle cx="1546.8" cy="991.13" r="5.15" fill="#FB5607" stroke-width="1.8"/><path d="M1483.3 1098.63L1509.33 1046.58L1535.35 1098.63Z" fill="#B03A31" stroke-linejoin="round"/><path d="M1514.53 1098.63A36.43 26.02 0 0 1 1587.4 1098.63Z" fill="#BC9160"/><rect x="1483.3" y="1098.63" width="104.1" height="16.41" fill="#BFFF40"/><rect x="1483.3" y="959.3" width="104.1" height="155.73" fill="none" stroke-width="1.35"/></g>
<g><rect x="1615.49" y="959.3" width="104.1" height="155.73" fill="#C5EEFD"/><circle cx="1685.19" cy="991.13" r="5.15" fill="#FB5607" stroke-width="1.8"/><circle cx="1678.99" cy="991.13" r="5.15" fill="#FFBE1C" stroke-width="1.8"/><path d="M1615.49 1102.79L1641.52 1040.33L1667.54 1102.79Z" fill="#B03A31" stroke-linejoin="round"/><path d="M1646.72 1102.79A36.43 36.43 0 0 1 1719.59 1102.79Z" fill="#BC9160"/><rect x="1615.49" y="1102.79" width="104.1" height="12.24" fill="#BFFF40"/><rect x="1615.49" y="959.3" width="104.1" height="155.73" fill="none" stroke-width="1.35"/></g>
<g><rect x="1747.68" y="959.3" width="104.1" height="155.73" fill="#C5EEFD"/><circle cx="1811.18" cy="991.13" r="7.28" fill="#FFBE1C" stroke-width="1.8"/><path d="M1747.68 1100.71L1773.71 1038.25L1799.73 1100.71Z" fill="#B03A31" stroke-linejoin="round"/><path d="M1778.91 1100.71A36.43 31.23 0 0 1 1851.78 1100.71Z" fill="#BC9160"/><rect x="1747.68" y="1100.71" width="104.1" height="14.32" fill="#BFFF40"/><rect x="1747.68" y="959.3" width="104.1" height="155.73" fill="none" stroke-width="1.35"/></g>
<g><rect x="161.4" y="1136.8" width="104.1" height="155.73" fill="#92CAF9"/><path d="M161.4 1271.96L187.43 1219.91L213.45 1271.96Z" fill="#B03A31" stroke-linejoin="round"/><rect x="161.4" y="1271.96" width="104.1" height="20.57" fill="#BFFF40"/><rect x="161.4" y="1136.8" width="104.1" height="155.73" fill="none" stroke-width="1.35"/></g>
<g><rect x="425.78" y="1136.8" width="104.1" height="155.73" fill="#92CAF9"/><path d="M425.78 1271.96L451.8 1219.91L477.83 1271.96Z" fill="#B03A31" stroke-linejoin="round"/><rect x="425.78" y="1271.96" width="104.1" height="20.57" fill="#BFFF40"/><rect x="425.78" y="1136.8" width="104.1" height="155.73" fill="none" stroke-width="1.35"/></g>
<g><rect x="557.97" y="1136.8" width="104.1" height="155.73" fill="#A5D6F9"/><circle cx="621.47" cy="1168.93" r="11.52" fill="#FFBE1C" stroke-width="1.8"/><path d="M557.97 1264.28L584 1181L610.02 1264.28Z" fill="#B03A31" stroke-linejoin="round"/><rect x="557.97" y="1264.28" width="104.1" height="28.25" fill="#BFFF40"/><rect x="557.97" y="1136.8" width="104.1" height="155.73" fill="none" stroke-width="1.35"/></g>
<g><rect x="822.35" y="1136.8" width="104.1" height="155.73" fill="#A5D6F9"/><circle cx="885.85" cy="1168.93" r="7.28" fill="#FFBE1C" stroke-width="1.8"/><path d="M822.35 1265.98L848.38 1182.7L874.4 1265.98Z" fill="#B03A31" stroke-linejoin="round"/><rect x="822.35" y="1265.98" width="104.1" height="26.55" fill="#BFFF40"/><rect x="822.35" y="1136.8" width="104.1" height="155.73" fill="none" stroke-width="1.35"/></g>
<g><rect x="954.54" y="1136.8" width="104.1" height="155.73" fill="#A5D6F9"/><circle cx="1018.04" cy="1168.93" r="7.28" fill="#FFBE1C" stroke-width="1.8"/><circle cx="1018.04" cy="1168.93" r="5.15" fill="#FB5607" stroke-width="1.8"/><path d="M954.54 1264.28L980.56 1181L1006.59 1264.28Z" fill="#B03A31" stroke-linejoin="round"/><rect x="954.54" y="1264.28" width="104.1" height="28.25" fill="#BFFF40"/><rect x="954.54" y="1136.8" width="104.1" height="155.73" fill="none" stroke-width="1.35"/></g>
<g><rect x="1086.73" y="1136.8" width="104.1" height="155.73" fill="#A5D6F9"/><circle cx="1150.23" cy="1168.93" r="10.3" fill="#FFBE1C" stroke-width="1.8"/><circle cx="1150.23" cy="1168.93" r="5.15" fill="#FB5607" stroke-width="1.8"/><path d="M1086.73 1268.18L1112.76 1184.9L1138.78 1268.18Z" fill="#B03A31" stroke-linejoin="round"/><rect x="1086.73" y="1268.18" width="104.1" height="24.35" fill="#BFFF40"/><rect x="1086.73" y="1136.8" width="104.1" height="155.73" fill="none" stroke-width="1.35"/></g>
<g><rect x="1218.92" y="1136.8" width="104.1" height="155.73" fill="#A5D6F9"/><circle cx="1282.42" cy="1168.93" r="8.92" fill="#FFBE1C" stroke-width="1.8"/><circle cx="1282.42" cy="1168.93" r="5.15" fill="#FB5607" stroke-width="1.8"/><path d="M1218.92 1267.8L1244.95 1215.75L1270.97 1267.8Z" fill="#B03A31" stroke-linejoin="round"/><path d="M1250.15 1267.8A36.43 15.61 0 0 1 1323.02 1267.8Z" fill="#BC9160"/><rect x="1218.92" y="1267.8" width="104.1" height="24.73" fill="#BFFF40"/><rect x="1218.92" y="1136.8" width="104.1" height="155.73" fill="none" stroke-width="1.35"/></g>
<g><rect x="1351.11" y="1136.8" width="104.1" height="155.73" fill="#B5E3FB"/><circle cx="1414.61" cy="1168.93" r="8.92" fill="#FFBE1C" stroke-width="1.8"/><path d="M1351.11 1267.8L1377.14 1215.75L1403.16 1267.8Z" fill="#B03A31" stroke-linejoin="round"/><path d="M1382.34 1267.8A36.43 15.61 0 0 1 1455.21 1267.8Z" fill="#BC9160"/><rect x="1351.11" y="1267.8" width="104.1" height="24.73" fill="#BFFF40"/><rect x="1351.11" y="1136.8" width="104.1" height="155.73" fill="none" stroke-width="1.35"/></g>
<g><rect x="1483.3" y="1136.8" width="104.1" height="155.73" fill="#B5E3FB"/><circle cx="1546.8" cy="1168.93" r="8.92" fill="#FFBE1C" stroke-width="1.8"/><path d="M1483.3 1267.8L1509.33 1215.75L1535.35 1267.8Z" fill="#B03A31" stroke-linejoin="round"/><path d="M1514.53 1267.8A36.43 15.61 0 0 1 1587.4 1267.8Z" fill="#BC9160"/><rect x="1483.3" y="1267.8" width="104.1" height="24.73" fill="#BFFF40"/><rect x="1483.3" y="1136.8" width="104.1" height="155.73" fill="none" stroke-width="1.35"/></g>
<g><rect x="1615.49" y="1136.8" width="104.1" height="155.73" fill="#B5E3FB"/><circle cx="1678.99" cy="1168.93" r="5.15" fill="#FFBE1C" stroke-width="1.8"/><path d="M1615.49 1263.87L1641.52 1191L1667.54 1263.87Z" fill="#B03A31" stroke-linejoin="round"/><path d="M1646.72 1263.87A36.43 20.82 0 0 1 1719.59 1263.87Z" fill="#BC9160"/><rect x="1615.49" y="1263.87" width="104.1" height="28.66" fill="#BFFF40"/><rect x="1615.49" y="1136.8" width="104.1" height="155.73" fill="none" stroke-width="1.35"/></g>
</g>
</svg>
</body></html>
